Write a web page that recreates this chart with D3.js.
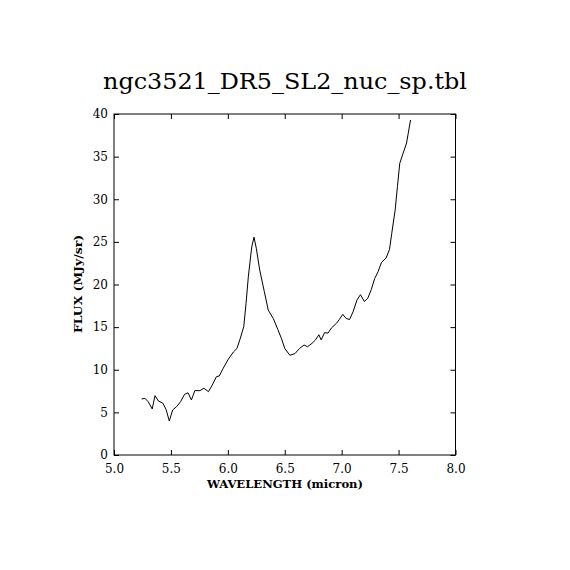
<!DOCTYPE html>
<html>
<head>
<meta charset="utf-8">
<script src="https://cdn.jsdelivr.net/npm/d3@7"></script>
<style>
  html, body { margin: 0; padding: 0; background: #fff; }
  svg { display: block; }
</style>
</head>
<body>
<svg id="chart" width="570" height="570"></svg>
<script>
const title = "ngc3521_DR5_SL2_nuc_sp.tbl";
const xLabel = "WAVELENGTH (micron)";
const yLabel = "FLUX (MJy/sr)";
const xTicks = [5.0, 5.5, 6.0, 6.5, 7.0, 7.5, 8.0];
const yTicks = [0, 5, 10, 15, 20, 25, 30, 35, 40];

const wavelength = [5.243, 5.272, 5.30, 5.336, 5.36, 5.39, 5.43, 5.457, 5.486, 5.515,
  5.55, 5.585, 5.62, 5.65, 5.68, 5.71, 5.755, 5.79, 5.83, 5.86,
  5.90, 5.925, 5.96, 6.00, 6.05, 6.08, 6.11, 6.14, 6.16, 6.18,
  6.21, 6.23, 6.25, 6.28, 6.32, 6.355, 6.40, 6.44, 6.47, 6.50,
  6.545, 6.59, 6.63, 6.67, 6.70, 6.74, 6.77, 6.80, 6.82, 6.85,
  6.88, 6.91, 6.955, 6.98, 7.01, 7.04, 7.07, 7.10, 7.135, 7.165,
  7.20, 7.23, 7.26, 7.29, 7.32, 7.35, 7.39, 7.42, 7.44, 7.47,
  7.49, 7.51, 7.54, 7.57, 7.585, 7.605];
const flux = [6.57, 6.65, 6.26, 5.4, 6.96, 6.34, 6.07, 5.36, 3.99, 5.28,
  5.67, 6.26, 7.12, 7.3, 6.45, 7.55, 7.55, 7.83, 7.43, 8.13,
  9.19, 9.27, 10.18, 11.15, 12.1, 12.5, 13.7, 15.06, 17.8, 20.9,
  24.4, 25.55, 24.26, 21.7, 19.2, 17.0, 16.0, 14.7, 13.7, 12.5,
  11.7, 11.9, 12.5, 12.9, 12.7, 13.1, 13.5, 14.1, 13.5, 14.35,
  14.3, 14.9, 15.46, 15.9, 16.5, 16.0, 15.9, 16.8, 18.2, 18.8,
  18.0, 18.4, 19.4, 20.7, 21.5, 22.6, 23.1, 24.1, 26.0, 28.75,
  31.5, 34.2, 35.4, 36.6, 37.75, 39.3];

const svg = d3.select("#chart");
const mLeft = 114, mRight = 455.5, mTop = 114, mBottom = 455;
const x = d3.scaleLinear().domain([5, 8]).range([mLeft, mRight]);
const y = d3.scaleLinear().domain([0, 40]).range([mBottom, mTop]);
const font = "'DejaVu Serif', 'Liberation Serif', serif";
const tickLen = 5;

// frame
svg.append("rect").attr("x", mLeft).attr("y", mTop)
  .attr("width", mRight - mLeft).attr("height", mBottom - mTop)
  .attr("fill", "none").attr("stroke", "#000").attr("stroke-width", 1);

// axes with inward ticks
const axB = svg.append("g").attr("transform", `translate(0,${mBottom})`)
  .call(d3.axisBottom(x).tickValues(xTicks).tickSize(-tickLen).tickPadding(9).tickFormat(d3.format(".1f")));
const axT = svg.append("g").attr("transform", `translate(0,${mTop})`)
  .call(d3.axisTop(x).tickValues(xTicks).tickSize(-tickLen).tickFormat(""));
const axL = svg.append("g").attr("transform", `translate(${mLeft},0)`)
  .call(d3.axisLeft(y).tickValues(yTicks).tickSize(-tickLen).tickPadding(6).tickFormat(d3.format("d")));
const axR = svg.append("g").attr("transform", `translate(${mRight},0)`)
  .call(d3.axisRight(y).tickValues(yTicks).tickSize(-tickLen).tickFormat(""));

[axB, axT, axL, axR].forEach(g => {
  g.select(".domain").remove();
  g.selectAll("line").attr("stroke", "#000");
  g.selectAll("text").attr("fill", "#000").style("font-family", font).style("font-size", "12px");
});

// line
const line = d3.line().x((d, i) => x(wavelength[i])).y(d => y(d));
svg.append("path").datum(flux).attr("d", line)
  .attr("fill", "none").attr("stroke", "#000").attr("stroke-width", 1);

// title
svg.append("text").attr("x", 285).attr("y", 89).attr("text-anchor", "middle")
  .attr("textLength", 364).attr("lengthAdjust", "spacingAndGlyphs")
  .style("font-family", font).style("font-size", "23px").text(title);

// x label
svg.append("text").attr("x", 285).attr("y", 488).attr("text-anchor", "middle")
  .attr("textLength", 156).attr("lengthAdjust", "spacingAndGlyphs")
  .style("font-family", font).style("font-size", "11.5px").style("font-weight", "bold").text(xLabel);

// y label
svg.append("text").attr("transform", "translate(82,284) rotate(-90)").attr("text-anchor", "middle")
  .attr("textLength", 98).attr("lengthAdjust", "spacingAndGlyphs")
  .style("font-family", font).style("font-size", "11.5px").style("font-weight", "bold").text(yLabel);
</script>
</body>
</html>
